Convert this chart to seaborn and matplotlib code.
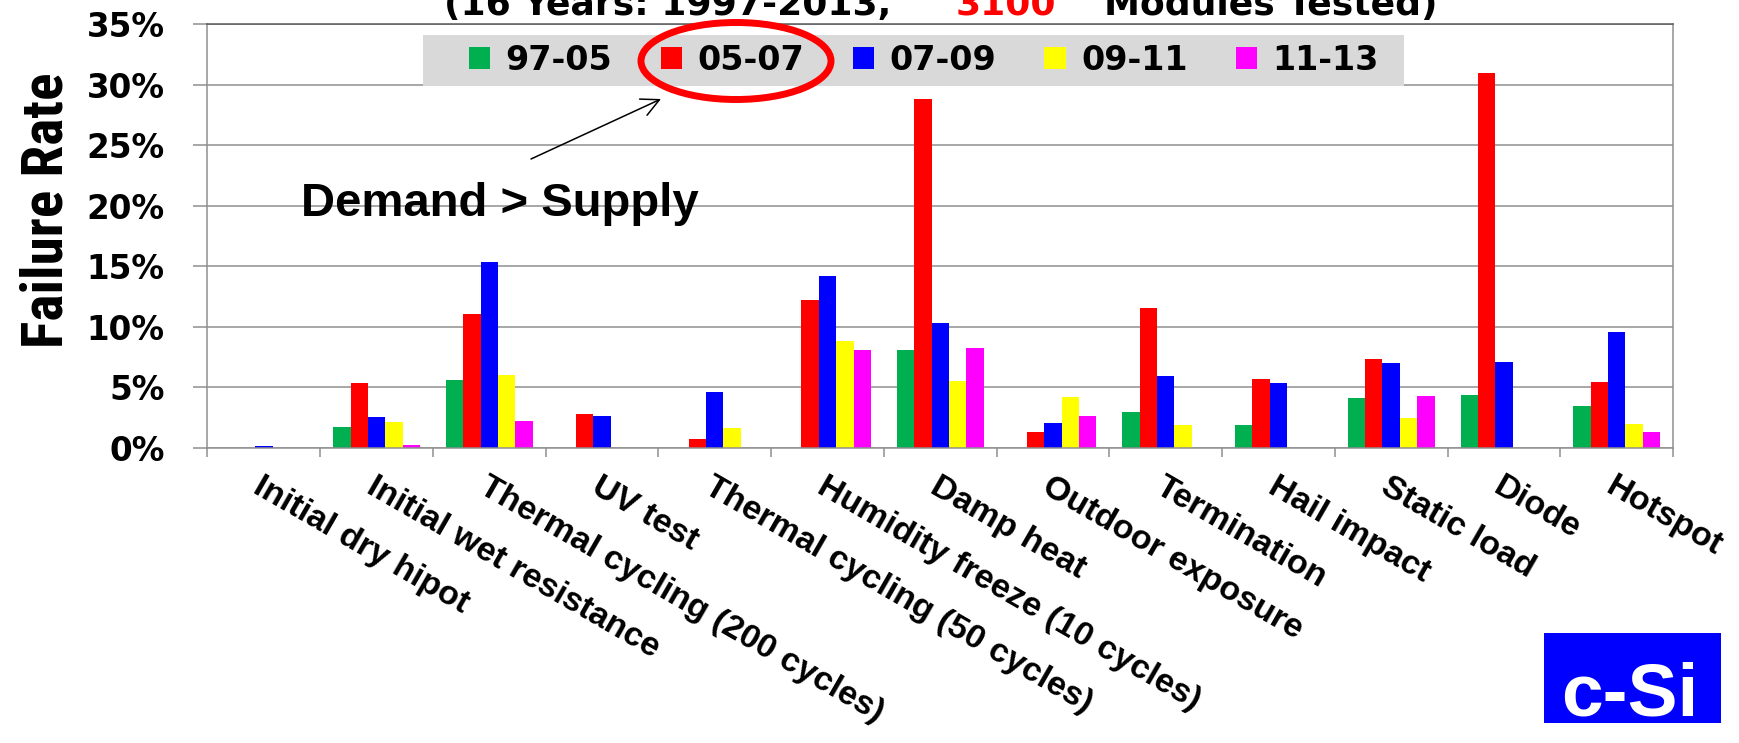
import matplotlib
matplotlib.use("Agg")
import matplotlib.pyplot as plt
from matplotlib import font_manager as fm
from matplotlib.patches import Rectangle, Ellipse, FancyArrowPatch
from matplotlib.ticker import FixedLocator
import numpy as np
import pandas as pd
import seaborn as sns

# ---- data (failure rate in %, per test and period) ----
categories = [
    "Initial dry hipot", "Initial wet resistance", "Thermal cycling (200 cycles)",
    "UV test", "Thermal cycling (50 cycles)", "Humidity freeze (10 cycles)",
    "Damp heat", "Outdoor exposure", "Termination", "Hail impact",
    "Static load", "Diode", "Hotspot",
]
periods = ["97-05", "05-07", "07-09", "09-11", "11-13"]
rate_97_05 = [0.0, 1.7, 5.6, 0.0, 0.0, 0.0, 8.1, 0.0, 2.94, 1.9, 4.1, 4.35, 3.44]
rate_05_07 = [0.0, 5.4, 11.1, 2.8, 0.77, 12.24, 28.8, 1.32, 11.58, 5.72, 7.37, 30.97, 5.47]
rate_07_09 = [0.2, 2.6, 15.35, 2.65, 4.6, 14.2, 10.35, 2.06, 5.97, 5.39, 7.04, 7.12, 9.57]
rate_09_11 = [0.0, 2.15, 6.05, 0.0, 1.68, 8.83, 5.5, 4.18, 1.9, 0.0, 2.48, 0.0, 2.0]
rate_11_13 = [0.0, 0.27, 2.25, 0.0, 0.0, 8.1, 8.25, 2.64, 0.0, 0.0, 4.29, 0.0, 1.35]
period_colors = ["#00B050", "#FF0000", "#0000FF", "#FFFF00", "#FF00FF"]
y_ticks = [0, 5, 10, 15, 20, 25, 30, 35]

series = [rate_97_05, rate_05_07, rate_07_09, rate_09_11, rate_11_13]
df = pd.DataFrame({
    "test": np.tile(categories, len(periods)),
    "period": np.repeat(periods, len(categories)),
    "rate": np.concatenate(series),
})


def condensed_bold():
    """Pick a condensed/narrow bold face if one is installed."""
    for fam in ["Liberation Sans Narrow", "Roboto Condensed", "Open Sans Condensed",
                "DejaVu Sans Condensed", "Noto Sans Condensed"]:
        try:
            fp = fm.FontProperties(family=fam, weight="bold")
            fm.findfont(fp, fallback_to_default=False)
            return fp
        except ValueError:
            pass
    for fam in ["DejaVu Sans", "Noto Sans", "Open Sans", "Roboto", "Liberation Sans"]:
        fp = fm.FontProperties(family=fam, weight="bold", stretch="condensed")
        try:
            path = fm.findfont(fp, fallback_to_default=False)
        except ValueError:
            continue
        if "ondensed" in path or "arrow" in path:
            return fp
    return fm.FontProperties(family="DejaVu Sans", weight="bold")


ARIAL = "Liberation Sans"
VERD = "DejaVu Sans"

sns.set_style("white")
plt.rcParams["font.family"] = [VERD]
plt.rcParams["text.color"] = "black"
plt.rcParams["xtick.labelcolor"] = "black"
plt.rcParams["ytick.labelcolor"] = "black"

W, H = 1740, 743
fig = plt.figure(figsize=(W / 100, H / 100), dpi=100)


def fx(px):
    return px / W


def fy(py):
    return 1 - py / H


ax = fig.add_axes([fx(207.5), fy(448), fx(1673) - fx(207.5), fy(24.4) - fy(448)])

sns.barplot(
    data=df, x="test", y="rate", hue="period", order=categories, hue_order=periods,
    palette=period_colors, saturation=1, width=0.77, linewidth=0, ax=ax,
)

grid_c = "#8f8f8f"
ax.set_xlim(-0.5, len(categories) - 0.5)
ax.set_ylim(0, 35)
ax.set_yticks(y_ticks)
ax.set_yticklabels([f"{v}%" for v in y_ticks])
ax.yaxis.grid(True, color=grid_c, linewidth=1.1)
ax.xaxis.grid(False)
ax.set_axisbelow(True)
ax.tick_params(axis="y", which="major", length=10, width=1.1, color=grid_c,
               direction="out", pad=21, labelsize=23.5, left=True, labelcolor="black")
for t in ax.get_yticklabels():
    t.set_fontweight("bold")
    t.set_family(VERD)

ax.set_xticks(range(len(categories)))
ax.set_xticklabels(categories, rotation=-30, ha="left", va="top",
                   rotation_mode="anchor", fontsize=24.5, fontweight="bold", family=ARIAL)
ax.tick_params(axis="x", which="major", length=0, pad=17, labelcolor="black")
ax.xaxis.set_minor_locator(FixedLocator(np.arange(-0.5, len(categories), 1.0)))
ax.tick_params(axis="x", which="minor", length=6.5, width=1.1, color=grid_c,
               direction="out", bottom=True)
ax.set_xlabel("")
ax.set_ylabel("")

for side, col in [("left", grid_c), ("bottom", grid_c), ("right", grid_c), ("top", "#595959")]:
    ax.spines[side].set_visible(True)
    ax.spines[side].set_color(col)
    ax.spines[side].set_linewidth(1.1)

# legend on a grey band
ax.add_patch(Rectangle((fx(423.5), fy(85.7)), fx(1404) - fx(423.5), fy(35) - fy(85.7),
                       transform=fig.transFigure, facecolor="#d9d9d9",
                       edgecolor="none", zorder=4, clip_on=False))
sns.move_legend(
    ax, loc="center left", bbox_to_anchor=(fx(469), fy(60.3)),
    bbox_transform=fig.transFigure, ncol=5, frameon=False, title=None,
    prop={"weight": "bold", "size": 24, "family": VERD},
    handlelength=0.64, handleheight=0.62, handletextpad=0.46, columnspacing=1.45,
    borderpad=0, borderaxespad=0,
)
ax.get_legend().set_zorder(10)

# title (partly above the top edge)
base = fy(14.5)
fig.text(fx(444), base, "(16 Years: 1997-2013,", fontsize=26, fontweight="bold",
         ha="left", va="baseline", family=VERD)
fig.text(fx(956), base, "3100", fontsize=26, fontweight="bold", color="#FF0000",
         ha="left", va="baseline", family=VERD)
fig.text(fx(1438), base, "Modules Tested)", fontsize=26, fontweight="bold",
         ha="right", va="baseline", family=VERD)

# y-axis title, sized to span the label area
ylab_fp = condensed_bold()
ylab = fig.text(fx(63), fy(210), "Failure Rate", rotation=90, rotation_mode="anchor",
                ha="center", va="baseline", fontproperties=ylab_fp, fontsize=30)
renderer = fig.canvas.get_renderer()
span = ylab.get_window_extent(renderer).height
ylab.set_fontsize(30 * 276 / span)

# highlight of the 05-07 period
fig.patches.append(Ellipse((fx(736), fy(61)), fx(190), 77 / H, transform=fig.transFigure,
                           fill=False, edgecolor="#FF0000", linewidth=5, zorder=12))
fig.patches.append(FancyArrowPatch((fx(531), fy(159)), (fx(661), fy(99)),
                                   transform=fig.transFigure,
                                   arrowstyle="->,head_length=0.8,head_width=0.4",
                                   mutation_scale=16, linewidth=1.1, color="black",
                                   shrinkA=0, shrinkB=0, zorder=12))
fig.text(fx(301), fy(216), "Demand > Supply", fontsize=34, fontweight="bold",
         ha="left", va="baseline", family=ARIAL)

# technology badge
fig.patches.append(Rectangle((fx(1544), fy(723)), fx(177), 90 / H, transform=fig.transFigure,
                             facecolor="#0000FF", edgecolor="none"))
fig.text(fx(1630), fy(716), "c-Si", fontsize=54, fontweight="bold", color="white",
         ha="center", va="baseline", family=ARIAL)

fig.savefig("out.png", dpi=100)
